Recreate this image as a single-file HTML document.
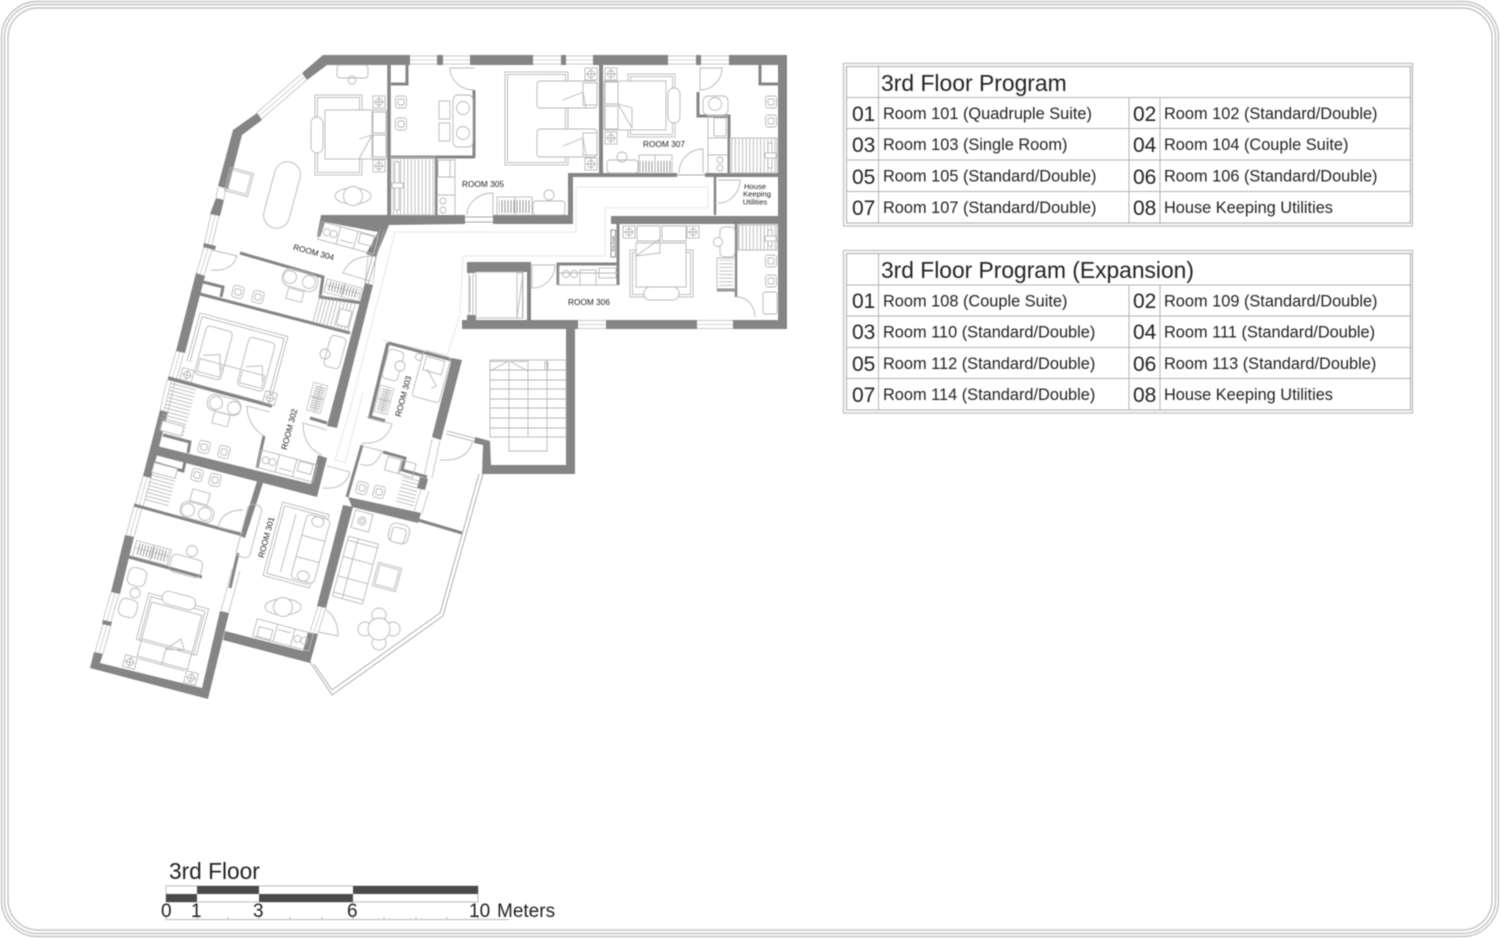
<!DOCTYPE html>
<html><head><meta charset="utf-8"><style>
html,body{margin:0;padding:0;background:#fff}
svg{display:block;filter:blur(.4px)}
text{font-family:"Liberation Sans",sans-serif;fill:#222}
.w{fill:#858585;stroke:none}
.t{stroke:#858585;fill:none}
.f{fill:none;stroke:#b8b8b8;stroke-width:.9}
.win{stroke:#cacaca;stroke-width:9;fill:none}
.wi{stroke:#fff;stroke-width:7;fill:none}
.g{fill:none;stroke:#d4d4d4;stroke-width:1}
</style></head><body>
<svg xmlns="http://www.w3.org/2000/svg" width="1500" height="938" viewBox="0 0 1500 938">
<defs>
<pattern id="h" width="3.6" height="10" patternUnits="userSpaceOnUse"><line x1="1" y1="0" x2="1" y2="10" stroke="#b0b0b0" stroke-width=".8"/></pattern>
<pattern id="hh" width="10" height="3.6" patternUnits="userSpaceOnUse"><line x1="0" y1="1" x2="10" y2="1" stroke="#b0b0b0" stroke-width=".8"/></pattern>
<pattern id="wr" width="3" height="10" patternUnits="userSpaceOnUse"><line x1="1" y1="0" x2="1" y2="10" stroke="#999" stroke-width="1"/></pattern>
<g id="bd"><rect x="-5.5" y="-6" width="11" height="12" rx="2.5"/><rect x="-3" y="-3" width="6" height="6" rx="1.5"/></g>
<g id="bs"><rect x="-6" y="-6" width="12" height="12"/><circle r="3.5"/><path d="M-5 0H5M0-5V5"/></g>
<g id="tb"><ellipse rx="18" ry="8"/><circle r="9.5" fill="#fff"/></g>
<g id="wd"><rect x="-18" y="-9" width="36" height="18"/><rect x="-16" y="-7" width="32" height="13" fill="url(#wr)" stroke="none"/><path d="M0-9V9M-18-1H18"/></g>
<g id="cl"><rect x="-29" y="-9" width="58" height="18"/><path d="M-10-9V9M8-9V9"/><circle cx="-22" cy="0" r="3.5"/><circle cx="-15" cy="0" r="3.5"/><rect x="11" y="-8" width="14" height="10"/><path d="M-7 4H6"/></g>
</defs>
<rect width="1500" height="938" fill="#fff"/>
<!-- frame -->
<g fill="none" stroke="#c4c4c4" stroke-width="1.4">
<rect x="1.5" y="1.5" width="1497" height="935" rx="36"/>
<rect x="4.5" y="4.5" width="1491" height="929" rx="33"/>
<rect x="8" y="8" width="1484" height="922" rx="30"/>
</g>
<!-- corridor guide lines -->
<g fill="none" stroke="#e8e8e8" stroke-width="1">
<path d="M576 232V187H708V208H605V256H463L460 313"/>
<path d="M576 232H395L350 410L335 460L345 463L363 392"/>
<path d="M382 340L447 355L460 315"/>
</g>
<!-- windows -->
<g>
<path class="win" d="M410 60H437M443 60H470M533 60H561M566 60H593M668 60H696M701 60H729M578 324.5H606M697 324.5H733M304 77L259 116M222 188L220 198M215 215L208 245M208 248L200 275M180 352L172 380M171 381L164 411M147 477L139 506M138 507L130 536M115 593L107 621M107 625L99 653M236 570L225 611M314 632L322 607M425 490L418 512M436 440L428 477M372 257L369 283"/>
<path class="wi" d="M410 60H437M443 60H470M533 60H561M566 60H593M668 60H696M701 60H729M578 324.5H606M697 324.5H733M304 77L259 116M222 188L220 198M215 215L208 245M208 248L200 275M180 352L172 380M171 381L164 411M147 477L139 506M138 507L130 536M115 593L107 621M107 625L99 653M236 570L225 611M314 632L322 607M425 490L418 512M436 440L428 477M372 257L369 283"/>
<path class="g" d="M410 60H437M443 60H470M533 60H561M566 60H593M668 60H696M701 60H729M578 324.5H606M697 324.5H733M304 77L259 116M215 215L208 245M208 248L200 275M180 352L172 380M171 381L164 411M147 477L139 506M138 507L130 536M115 593L107 621M107 625L99 653M314 632L322 607"/>
</g>
<!-- walls -->
<g class="w">
<polygon points="323,55 410,55 410,65 327,65 307,80 302,73"/>
<rect x="437" y="55" width="6" height="10"/><rect x="470" y="55" width="63" height="10"/><rect x="561" y="55" width="5" height="10"/><rect x="593" y="55" width="75" height="10"/><rect x="696" y="55" width="5" height="10"/><rect x="729" y="55" width="58" height="10"/>
<rect x="778" y="55" width="9" height="274"/>
<rect x="462" y="320" width="116" height="9"/><rect x="606" y="320" width="91" height="9"/><rect x="733" y="320" width="54" height="9"/>
<polygon points="257,113 262,120 242,135 228,189 218,186 233,130"/>
<polygon points="216,198 224,200 220,216 210,214"/>
<polygon points="204,243 216,246 215,250 203,247"/>
<polygon points="196,273 205,276 185,353 176,351"/>
<polygon points="160,410 168,412 151,478 143,476"/>
<polygon points="125,535 134,537 120,594 111,592"/>
<polygon points="103,620 112,622 111,626 102,624"/>
<polygon points="94,652 103,654 100,663 202,688 220,611 229,613 208,699 90,668"/>
<polygon points="321,215 465,215 465,224 389,225 376,257 366,254 378,232 325,222 320,237 317,236"/>
<polygon points="493,215 568,215 568,173 677,173 677,177 573,177 573,224 493,224"/>
<rect x="705" y="173" width="73" height="4"/>
<rect x="611" y="216" width="167" height="8"/>
<polygon points="365,283 373,285 337,428 327,426"/>
<polygon points="157,446 311,484 318,455 327,458 317,497 155,455"/>
<polygon points="258,478 264,480 245,538 240,536"/>
<polygon points="225,631 303,651 308,632 318,634 310,663 223,640"/>
<polygon points="317,606 326,608 353,507 343,505"/>
<polygon points="348,497 421,513 418,523 352,507"/>
<polygon points="420,477 428,479 425,490 417,488"/>
<polygon points="452,358 462,360 441,440 432,437"/>
<polygon points="475,437 490,441 491,465 566,465 566,329 575,329 575,474 482,474 483,445 474,443"/>
<polygon points="467,262 531,262 531,320 527,320 527,272 475,272 475,273 467,273"/>
<rect x="467" y="315" width="9" height="5"/>
</g>
<!-- thin walls -->
<g class="t" stroke-width="3">
<path d="M389 65V215" stroke-width="3.5"/>
<path d="M407 65V84H391"/>
<path d="M391 157H475M436 157V215M474 90V157" stroke-width="3"/>
<path d="M601 65V173" stroke-width="4"/>
<path d="M698 92V116H729V173"/>
<path d="M760 65V84H778"/>
<path d="M715 177V215" stroke-width="2.5"/>
<path d="M618 224V285" stroke-width="3"/>
<path d="M558 285V264H618"/>
<path d="M736 224V297" stroke-width="2.5"/>
<path d="M717 290H735" stroke-width="3"/>
<path d="M240 253L323 277L320 297L362 303" stroke-width="3"/>
<path d="M200 294L350 333" stroke-width="3"/>
<path d="M203 282L223 287L221 297"/>
<path d="M168 378L272 406" stroke-width="3.5"/>
<path d="M264 436L257 468"/>
<path d="M310 418L327 423"/>
<path d="M163 435L190 442L188 453"/>
<path d="M155 463L183 471L185 462"/>
<path d="M134 505L243 535" stroke-width="3"/>
<path d="M129 557L202 577" stroke-width="3"/>
<path d="M238 553L230 588" stroke-width="3"/>
<path d="M418 520L462 533" stroke-width="3"/>
<path d="M362 445L347 497"/>
<path d="M383 452L405 458L402 470L427 477" stroke-width="3"/>
<path d="M388 343L452 360" stroke-width="3"/>
<path d="M388 343L370 417L385 421" stroke-width="3.5"/>
</g>
<!-- balcony -->
<g fill="none" stroke="#a8a8a8" stroke-width=".9">
<path d="M310 662L332 695L443 616L483 474"/>
<path d="M314 664L332 690L440 613L479 474"/>
<path d="M447 431L474 438M446 434L473 441"/>
<path d="M465 217H493M465 222H493M677 175H705"/>
<path d="M384 230L368 285M380 229L365 283"/>
</g>
<!-- doors -->
<g class="f">
<path d="M493 215V193A26 22 0 0 0 467 215"/>
<path d="M703 173V149A24 24 0 0 0 679 173"/>
<path d="M474 68H450A24 22 0 0 0 474 90"/>
<path d="M700 68H722A22 22 0 0 1 700 90Z"/>
<path d="M718 180H740A22 23 0 0 1 718 203"/>
<path d="M532 265V288A23 23 0 0 0 555 265H532"/>
<path d="M737 297A18 20 0 0 1 755 317"/>
<path d="M373 256Q350 256 343 273L370 281"/>
<path d="M212 250L237 256Q232 272 211 270"/>
<path d="M270 412L247 406Q247 425 264 436"/>
<path d="M327 430L303 423Q303 447 322 455"/>
<path d="M350 472L327 466M350 472Q345 490 323 488"/>
<path d="M367 417L392 424Q385 445 362 443"/>
<path d="M362 446L382 451Q375 470 360 464"/>
<path d="M473 440Q468 462 440 460"/>
<path d="M326 610Q338 618 338 636L318 632"/>
<path d="M243 510Q222 510 218 527L243 533"/>
</g>
<!-- room 304 master -->
<g class="f">
<rect x="315" y="95" width="47" height="80"/><rect x="317.5" y="97.5" width="42" height="75"/>
<rect x="325" y="110" width="47" height="49" fill="#fff"/>
<rect x="372" y="110" width="15" height="49" fill="#fff"/>
<path d="M373 112H386V133H373ZM373 135H386V157H373ZM372 135L359 159M359 139L372 135"/>
<rect x="311" y="117" width="12" height="36" rx="6" fill="#fff"/>
<use href="#bs" x="379" y="102"/><use href="#bs" x="379" y="166"/>
<rect x="337" y="65" width="31" height="13" rx="3"/><circle cx="352" cy="80" r="4"/>
<use href="#tb" x="353" y="196"/>
<rect x="-13" y="-34" width="26" height="68" rx="13" transform="translate(282 195) rotate(15)"/>
<rect x="-12" y="-12" width="24" height="24" transform="translate(239 182) rotate(15)"/><rect x="-10" y="-10" width="20" height="20" transform="translate(239 182) rotate(15)"/>
<!-- 305 bath -->
<use href="#bd" x="401" y="102"/><use href="#bd" x="401" y="124"/>
<rect x="453" y="95" width="20" height="52" rx="5"/><circle cx="463" cy="108" r="6.5"/><circle cx="463" cy="133" r="6.5"/>
<rect x="439" y="101" width="11" height="18"/><rect x="439" y="123" width="11" height="18"/>
<rect x="391" y="157" width="44" height="58" fill="url(#h)"/>
<rect x="395" y="162" width="4" height="48" fill="#fff"/><rect x="392" y="183" width="11" height="5" fill="#fff"/>
<!-- 305 closet -->
<path d="M437 160H455V215M438 160V177H450V160M437 177H455M437 195H455"/>
<circle cx="443" cy="201" r="3"/><circle cx="443" cy="210" r="3"/>
<rect x="497" y="197" width="35" height="18"/><rect x="499" y="200" width="31" height="13" fill="url(#wr)" stroke="none"/><path d="M515 197V215"/>
<rect x="533" y="201" width="32" height="14" rx="3"/><circle cx="549" cy="195" r="5"/>
<!-- 305 twin -->
<rect x="505" y="72" width="63" height="93"/><rect x="507.5" y="74.5" width="58" height="88"/>
<rect x="537" y="81" width="60" height="27" rx="3" fill="#fff"/><rect x="537" y="129" width="60" height="28" rx="3" fill="#fff"/>
<path d="M568 108V129"/>
<rect x="583" y="83" width="14" height="22"/><rect x="583" y="133" width="14" height="22"/>
<path d="M563 100L583 92L586 108M563 146L583 138L586 155"/>
<use href="#bs" x="591" y="74"/><use href="#bs" x="591" y="164"/>
<!-- 307 -->
<rect x="628" y="74" width="47" height="63"/><rect x="630.5" y="76.5" width="42" height="58"/>
<rect x="604" y="81" width="62" height="49" fill="#fff"/>
<path d="M605 82H618V104H605ZM605 106H618V129H605ZM618 104L632 128V108Z"/>
<rect x="668" y="88" width="12" height="35" rx="6" fill="#fff"/>
<use href="#bs" x="611" y="74"/><use href="#bs" x="611" y="138"/>
<rect x="607" y="160" width="31" height="13" rx="3"/><circle cx="622" cy="157" r="5"/>
<rect x="639" y="155" width="33" height="18"/><rect x="640" y="161" width="31" height="11" fill="url(#wr)" stroke="none"/><path d="M655 155V173"/>
<rect x="703" y="96" width="25" height="19" rx="5"/><circle cx="715" cy="104" r="6.5"/>
<use href="#bd" x="771" y="102"/><use href="#bd" x="771" y="121"/>
<rect x="730" y="138" width="47" height="35" fill="url(#h)"/>
<rect x="768" y="143" width="4" height="25" fill="#fff"/><rect x="765" y="153" width="11" height="5" fill="#fff"/>
<path d="M708 116V173M728 116H708M708 138H728M708 155H728"/><rect x="714" y="118" width="12" height="18"/>
<circle cx="720" cy="160" r="3"/><circle cx="720" cy="168" r="3"/>
<!-- 306 -->
<rect x="630" y="250" width="63" height="47"/><rect x="632.5" y="252.5" width="58" height="42"/>
<rect x="636" y="243" width="50" height="44" fill="#fff"/>
<path d="M637 226H660V241H637ZM662 226H686V241H662ZM636 243H686M636 256L660 239V253Z"/>
<rect x="644" y="287" width="35" height="13" rx="6" fill="#fff"/>
<use href="#bs" x="629" y="232"/><use href="#bs" x="693" y="232"/>
<rect x="720" y="227" width="15" height="30" rx="4"/><circle cx="718" cy="242" r="4.5" fill="#fff"/>
<rect x="717" y="258" width="18" height="32"/><rect x="719" y="260" width="14" height="28" fill="url(#hh)" stroke="none"/>
<rect x="738" y="225" width="39" height="25" fill="url(#h)"/>
<rect x="768" y="230" width="4" height="16" fill="#fff"/><rect x="765" y="236" width="11" height="5" fill="#fff"/>
<path d="M738 250H777"/>
<use href="#bd" x="771" y="261"/><use href="#bd" x="771" y="281"/>
<rect x="763" y="292" width="14" height="22" rx="2"/>
<path d="M559 267V285H618M559 273H618"/><circle cx="566" cy="274" r="3.5"/><circle cx="574" cy="274" r="3.5"/><rect x="599" y="268" width="17" height="10"/><rect x="580" y="270" width="16" height="15"/>
<rect x="611" y="230" width="4.5" height="27" stroke="#888"/>
<!-- lift -->
<rect x="476" y="272" width="47" height="46"/><rect x="517" y="273" width="5.5" height="45"/>
<path d="M523 273L517 318M469 273V315M473 273V315M470 276V312"/>
</g>
<!-- stairs -->
<g class="f" stroke="#a8a8a8">
<rect x="490" y="360" width="76" height="77"/>
<path d="M490 370H566M490 380H566M490 389H566M490 399H566M490 408H566M490 418H566M490 428H566M509 360V451H547V360M528 360V437"/>
<path d="M490 371L509 361L528 371"/>
<rect x="545" y="362" width="3" height="8"/>
<rect x="490" y="360" width="38" height="2" fill="#ccc" stroke="none"/>
</g>
<!-- rotated rooms -->
<g class="f">
<!-- 304 closet -->
<g transform="translate(348 238) rotate(15)"><use href="#cl"/></g>
<!-- 304 bath -->
<rect x="-18" y="-9" width="36" height="18" rx="8" transform="translate(300 280) rotate(15)"/>
<circle cx="290" cy="277" r="6.5"/><circle cx="309" cy="282" r="6.5"/>
<rect x="-8" y="-5.5" width="16" height="11" transform="translate(295 295) rotate(15)"/>
<g transform="translate(238 292) rotate(15)"><use href="#bd"/></g><g transform="translate(258 297) rotate(15)"><use href="#bd"/></g>
<g transform="translate(343 290) rotate(15)"><use href="#wd" transform="scale(1 .75)"/></g>
<g transform="translate(333 313) rotate(15)"><rect x="-20" y="-15" width="40" height="30" fill="url(#h)" stroke="none"/><rect x="6" y="-6" width="12" height="16" fill="#fff"/></g>
<!-- 302 -->
<g transform="translate(200 313) rotate(15)">
<path d="M0 0H91V60M3 3H88V60M0 0V50M3 3V50"/>
<rect x="10" y="10" width="27" height="50" rx="4" fill="#fff"/><rect x="54" y="10" width="27" height="50" rx="4" fill="#fff"/>
<rect x="12" y="44" width="23" height="13"/><rect x="56" y="44" width="23" height="13"/>
<path d="M37 30V54M14 40L30 35L34 50M58 40L74 35L78 50M37 44H54"/>
</g>
<g transform="translate(187 375) rotate(15)"><use href="#bs"/></g><g transform="translate(270 398) rotate(15)"><use href="#bs"/></g>
<circle cx="325" cy="354" r="5"/>
<g transform="translate(335 352) rotate(15)"><rect x="-8" y="-16" width="16" height="32" rx="4"/></g>
<g transform="translate(317 398) rotate(15)"><use href="#wd" transform="rotate(90) scale(.8)"/></g>
<!-- 302 bath -->
<circle cx="216" cy="403" r="6.5"/><circle cx="234" cy="408" r="6.5"/>
<rect x="-17" y="-8" width="34" height="16" rx="7" transform="translate(224 405) rotate(15)"/>
<rect x="-8" y="-6" width="16" height="12" transform="translate(221 419) rotate(15)"/>
<g transform="translate(204 447) rotate(15)"><use href="#bd"/></g><g transform="translate(224 452) rotate(15)"><use href="#bd"/></g>
<g transform="translate(177 410) rotate(15)"><rect x="-13" y="-26" width="26" height="52" fill="url(#hh)" stroke="none"/><rect x="-11" y="14" width="22" height="10" fill="#fff"/></g>
<g transform="translate(287 466) rotate(15)"><use href="#cl"/></g>
<!-- 303 -->
<g transform="translate(393 365) rotate(15)"><rect x="-8" y="-15" width="16" height="30" rx="4"/></g>
<circle cx="400" cy="366" r="5" fill="#fff"/>
<g transform="translate(384 400) rotate(15)"><use href="#wd" transform="rotate(90) scale(.75)"/></g>
<g transform="translate(430 378) rotate(15)">
<rect x="-13" y="-25" width="28" height="47" rx="3"/><rect x="-9" y="-16" width="19" height="14" transform="translate(0 -4)"/>
<path d="M-5 -8L8 6L4 10"/>
</g>
<circle cx="419" cy="357" r="3.5"/>
<!-- 303 bath -->
<g transform="translate(393 465) rotate(15)"><rect x="-7" y="-7" width="14" height="14"/><rect x="8" y="-7" width="14" height="14" /></g>
<g transform="translate(362 488) rotate(15)"><use href="#bd"/></g><g transform="translate(379 492) rotate(15)"><use href="#bd"/></g>
<g transform="translate(408 492) rotate(15)"><rect x="-9" y="-15" width="18" height="30" fill="url(#hh)" stroke="none"/></g>
<!-- 100 bath -->
<g transform="translate(197 475) rotate(15)"><use href="#bd"/></g><g transform="translate(215 480) rotate(15)"><use href="#bd"/></g>
<circle cx="188" cy="510" r="6.5"/><circle cx="205" cy="514" r="6.5"/>
<rect x="-17" y="-8" width="34" height="16" rx="7" transform="translate(197 512) rotate(15)"/>
<rect x="-9" y="-6" width="18" height="12" transform="translate(200 497) rotate(15)"/>
<g transform="translate(161 484) rotate(15)"><rect x="-12" y="-16" width="25" height="36" fill="url(#hh)" stroke="none"/><rect x="-12" y="-19" width="24" height="10" fill="#fff"/></g>
<!-- 301 -->
<g transform="translate(296 545) rotate(15)">
<rect x="-24" y="-38" width="48" height="76"/><rect x="-21" y="-35" width="42" height="70"/>
<rect x="3" y="-33" width="24" height="66" rx="4" fill="#fff"/><path d="M3-11H27M3 11H27M-8-30V30"/>
<ellipse cx="15" cy="-28" rx="6" ry="5"/><ellipse cx="15" cy="28" rx="6" ry="5"/>
</g>
<g transform="translate(249 531) rotate(15)"><rect x="-7" y="-27" width="14" height="54" rx="5"/></g>
<use href="#tb" x="283" y="607"/>
<g transform="translate(283 635) rotate(15)"><use href="#cl" transform="rotate(180)"/></g>
<!-- lounge -->
<g transform="translate(362 521) rotate(15)"><rect x="-9" y="-9" width="18" height="18"/><circle r="4"/><circle r="2"/></g>
<g transform="translate(399 533) rotate(15)"><rect x="-10" y="-9" width="20" height="19" rx="6"/><rect x="-7" y="-5" width="14" height="15" rx="3"/></g>
<g transform="translate(355 570) rotate(15)"><rect x="-15" y="-31" width="31" height="62"/><path d="M-15-10H16M-15 10H16M-5-31V31M-15-27H16M-15 27H16"/></g>
<g transform="translate(387 577) rotate(15)"><rect x="-12" y="-12" width="24" height="24"/><rect x="-10" y="-10" width="20" height="20"/></g>
<circle cx="379" cy="615" r="7"/><circle cx="379" cy="643" r="7"/><circle cx="365" cy="629" r="7"/><circle cx="393" cy="629" r="7"/>
<circle cx="379" cy="629" r="11" fill="#fff"/>
<!-- 100 room -->
<g transform="translate(152 553) rotate(15)"><use href="#wd" transform="scale(1 .9)"/></g>
<g transform="translate(186 566) rotate(15)"><rect x="-16" y="-9" width="32" height="18" rx="5"/></g>
<circle cx="192" cy="551" r="5.5" fill="#fff"/>
<g transform="translate(137 577) rotate(15)"><rect x="-9" y="-9" width="18" height="18" rx="6"/></g>
<g transform="translate(128 608) rotate(15)"><rect x="-9" y="-9" width="18" height="18" rx="6"/></g>
<circle cx="135" cy="593" r="5"/>
<g transform="translate(171 630) rotate(15)">
<rect x="-31" y="-30" width="62" height="48"/><rect x="-28" y="-27" width="56" height="45"/>
<rect x="-26" y="-22" width="52" height="56" fill="#fff"/>
<path d="M-26 16H26M-26 18H26M0 18V36M-24 36H24M0 20L18 16L12 6Z"/>
<rect x="-17" y="-37" width="34" height="13" rx="6" fill="#fff"/>
</g>
<g transform="translate(130 662) rotate(15)"><use href="#bs"/></g><g transform="translate(191 678) rotate(15)"><use href="#bs"/></g>
</g>
<!-- room labels -->
<g font-size="8" fill="#222">
<text x="483" y="187" text-anchor="middle" font-size="8.3">ROOM 305</text>
<text x="664" y="147" text-anchor="middle" font-size="8.3">ROOM 307</text>
<text x="589" y="305" text-anchor="middle" font-size="8.3">ROOM 306</text>
<text x="755" y="189" text-anchor="middle" font-size="7.6">House</text>
<text x="757" y="196.5" text-anchor="middle" font-size="7.6">Keeping</text>
<text x="755" y="204.5" text-anchor="middle" font-size="7.6">Utilities</text>
<text transform="translate(313 255) rotate(15)" text-anchor="middle" font-size="8.3">ROOM 304</text>
<text transform="translate(292 430) rotate(-75)" text-anchor="middle" font-size="8.3">ROOM 302</text>
<text transform="translate(406 397) rotate(-75)" text-anchor="middle" font-size="8.3">ROOM 303</text>
<text transform="translate(269 538) rotate(-75)" text-anchor="middle" font-size="8.3">ROOM 301</text>
<text transform="translate(614.5 243.5) rotate(-90)" text-anchor="middle" font-size="3.6">Fire Hose</text>
</g>
<!-- table 1 -->
<g fill="none" stroke="#b4b4b4" stroke-width="1">
<rect x="843.5" y="63.5" width="569" height="162.5" stroke="#c4c4c4" stroke-width="1.4"/>
<rect x="846.5" y="66.5" width="564" height="156.5" stroke-width="1.2"/>
<path d="M847 97.5H1410M847 128.5H1410M847 160H1410M847 191.5H1410M878.5 67V223M1129 97V223M1160 97V223"/>
<rect x="843.5" y="250.5" width="569" height="162.5" stroke="#c4c4c4" stroke-width="1.4"/>
<rect x="846.5" y="253.5" width="564" height="156.5" stroke-width="1.2"/>
<path d="M847 285H1410M847 316H1410M847 347.5H1410M847 378.5H1410M878.5 254V410M1129 285V410M1160 285V410"/>
</g>
<g font-size="16.35">
<text x="881" y="91" font-size="22.9">3rd Floor Program</text>
<g font-size="21"><text x="852" y="121">01</text><text x="1133" y="121">02</text><text x="852" y="152">03</text><text x="1133" y="152">04</text><text x="852" y="184">05</text><text x="1133" y="184">06</text><text x="852" y="215">07</text><text x="1133" y="215">08</text></g>
<text x="883" y="119">Room 101 (Quadruple Suite)</text><text x="1164" y="119">Room 102 (Standard/Double)</text>
<text x="883" y="150">Room 103 (Single Room)</text><text x="1164" y="150">Room 104 (Couple Suite)</text>
<text x="883" y="181.5">Room 105 (Standard/Double)</text><text x="1164" y="181.5">Room 106 (Standard/Double)</text>
<text x="883" y="213">Room 107 (Standard/Double)</text><text x="1164" y="213">House Keeping Utilities</text>
<text x="881" y="278" font-size="22.8">3rd Floor Program (Expansion)</text>
<g font-size="21"><text x="852" y="308">01</text><text x="1133" y="308">02</text><text x="852" y="339">03</text><text x="1133" y="339">04</text><text x="852" y="371">05</text><text x="1133" y="371">06</text><text x="852" y="402">07</text><text x="1133" y="402">08</text></g>
<text x="883" y="306.5">Room 108 (Couple Suite)</text><text x="1164" y="306.5">Room 109 (Standard/Double)</text>
<text x="883" y="337.5">Room 110 (Standard/Double)</text><text x="1164" y="337.5">Room 111 (Standard/Double)</text>
<text x="883" y="369">Room 112 (Standard/Double)</text><text x="1164" y="369">Room 113 (Standard/Double)</text>
<text x="883" y="400">Room 114 (Standard/Double)</text><text x="1164" y="400">House Keeping Utilities</text>
</g>
<!-- scale -->
<text x="169" y="879" font-size="22.7">3rd Floor</text>
<rect x="166" y="886" width="312" height="16" fill="#fff" stroke="#bbb"/>
<g fill="#4a4a4a"><rect x="197" y="886" width="62" height="8"/><rect x="353" y="886" width="125" height="8"/><rect x="166" y="894" width="31" height="8"/><rect x="259" y="894" width="94" height="8"/></g>
<path d="M166 919.5H509M166 915V920M197 915V920M228 917V920M259 915V920M290 917V920M322 917V920M353 915V920M384 917V920M416 917V920M447 917V920M478 915V920" stroke="#bbb" fill="none"/>
<g font-size="19"><text x="161" y="917">0</text><text x="191" y="917">1</text><text x="253" y="917">3</text><text x="347" y="917">6</text><text x="469" y="917">10</text><text x="497" y="917">Meters</text></g>
</svg>
</body></html>
